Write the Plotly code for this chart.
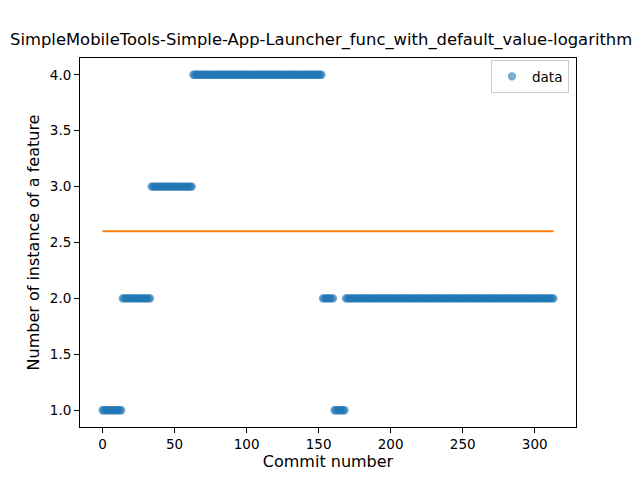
import numpy as np
import plotly.graph_objects as go

# Runs of constant values (commit index ranges, inclusive)
run_starts = [0, 14, 34, 63, 153, 161, 169]
run_ends = [13, 33, 62, 152, 160, 168, 313]
run_values = [1.0, 2.0, 3.0, 4.0, 2.0, 1.0, 2.0]

commits = []
features = []
for s, e, v in zip(run_starts, run_ends, run_values):
    for c in range(s, e + 1):
        commits.append(c)
        features.append(v)

mean_x = [0, 313]
mean_y = [2.6, 2.6]

title_text = "SimpleMobileTools-Simple-App-Launcher_func_with_default_value-logarithm"

FONT = "DejaVu Sans"
W, H = 640, 480
L, R, T, B = 80, 64, 58, 53
pw = W - L - R
ph = H - T - B

fig = go.Figure()
fig.add_trace(go.Scatter(
    x=commits, y=features, mode="markers", name="data",
    marker=dict(color="#1f77b4", size=8.3, opacity=0.6, line=dict(width=0)),
))
fig.add_trace(go.Scatter(
    x=mean_x, y=mean_y, mode="lines", showlegend=False,
    line=dict(color="#ff7f0e", width=2),
))

axis_common = dict(
    showgrid=False, zeroline=False, showline=True, linecolor="black",
    linewidth=1, mirror=True, ticks="outside", ticklen=5, tickwidth=1,
    tickcolor="black", tickfont=dict(family=FONT, size=13.5, color="black"),
)

fig.update_layout(
    width=W, height=H,
    margin=dict(l=L, r=R, t=T, b=B, pad=0),
    paper_bgcolor="white", plot_bgcolor="white",
    font=dict(family=FONT, color="black"),
    xaxis=dict(range=[-15.65, 328.65], tickvals=[0, 50, 100, 150, 200, 250, 300],
               title=dict(text="Commit number", font=dict(family=FONT, size=16), standoff=4),
               **axis_common),
    yaxis=dict(range=[0.85, 4.15], tickvals=[1.0, 1.5, 2.0, 2.5, 3.0, 3.5, 4.0],
               tickformat=".1f",
               title=dict(text="Number of instance of a feature", font=dict(family=FONT, size=16), standoff=6),
               **axis_common),
    legend=dict(x=(569 - L) / pw, y=1 - (60 - T) / ph, xanchor="right", yanchor="top",
                bgcolor="rgba(255,255,255,0.8)", bordercolor="#cccccc", borderwidth=1,
                font=dict(family=FONT, size=13.5, color="black")),
    showlegend=True,
    annotations=[dict(
        text=title_text, xref="paper", yref="paper",
        x=(8 - L) / pw, y=1 + (58 - 40) / ph, xanchor="left", yanchor="middle",
        showarrow=False, font=dict(family=FONT, size=16.4, color="black"),
    )],
)

fig.write_html("out.html")
